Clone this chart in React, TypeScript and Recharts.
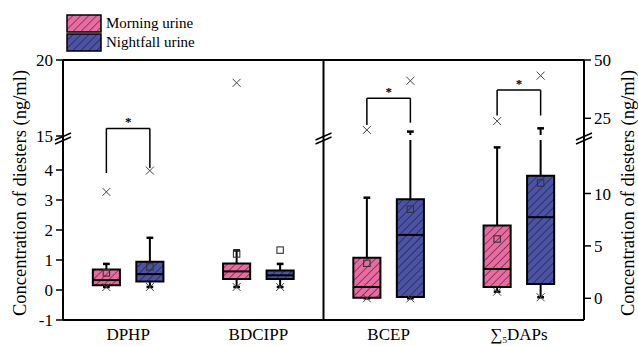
import {
  ComposedChart,
  XAxis,
  YAxis,
  Scatter,
  ReferenceArea,
  ReferenceLine,
  ReferenceDot,
  Legend,
} from "recharts";

const FONT = '"Liberation Serif", "Times New Roman", "DejaVu Serif", serif';

const categories = ["DPHP", "BDCIPP", "BCEP", "∑5DAPs"];
// DPHP and BDCIPP are read on the left axis, the other two on the right one
const categoryAxis = ["L", "L", "R", "R"];
const seriesNames = ["Morning urine", "Nightfall urine"];
const seriesColors = ["#E86CA2", "#4D53A4"];
const hatchColors = ["#4a1830", "#15183f"];

// box statistics (ng/ml)
const morningMin = [0.1, 0.1, 0, 0.63];
const morningQ1 = [0.16, 0.37, 0.06, 1.08];
const morningMedian = [0.33, 0.62, 1.08, 2.8];
const morningQ3 = [0.68, 0.88, 3.88, 6.94];
const morningMax = [0.87, 1.32, 9.6, 14.4];
const morningMean = [0.57, 1.2, 3.34, 5.66];
const morningP99 = [3.27, 18.5, 20, 23.8];

const nightMin = [0.1, 0.1, 0, 0.1];
const nightQ1 = [0.28, 0.37, 0.12, 1.37];
const nightMedian = [0.53, 0.49, 6.05, 7.74];
const nightQ3 = [0.94, 0.65, 9.46, 11.7];
const nightMax = [1.74, 0.87, 19.3, 20.7];
const nightMean = [0.77, 1.33, 8.5, 11.0];
const nightP99 = [3.98, null, 41.1, 43.3];

const leftTicks = [-1, 0, 1, 2, 3, 4, 15, 20];
const rightTicks = [0, 5, 10, 25, 50];

// significance brackets (*)
const sigCategory = [0, 2, 3];
const sigTop = [15.5, 33.6, 37.1];
const sigMorningEnd = [3.9, 22.1, 26.2];
const sigNightEnd = [4.07, 23.1, 26.2];

// broken axes -> piecewise linear map onto one shared 0..H plotting range
const H = 260;
const GAP_LO = 180;
const GAP_HI = 185;
const BREAK_AT = 181.5;
const toL = (v: number) => (v < 10 ? (v + 1) * 30 : 184 + (v - 15) * 15.2);
const toR = (v: number) => (v < 17 ? 21.7 + v * 10.48 : 201.7 + (v - 25) * 2.332);
const toAxis = (axis: string, v: number) => (axis === "L" ? toL(v) : toR(v));

const OFFSET = 0.167;
const HALF = 0.104;
const CAP = 0.026;

const stats = [
  { min: morningMin, q1: morningQ1, med: morningMedian, q3: morningQ3, max: morningMax, mean: morningMean, p99: morningP99 },
  { min: nightMin, q1: nightQ1, med: nightMedian, q3: nightQ3, max: nightMax, mean: nightMean, p99: nightP99 },
];

const boxes = categories.flatMap((c, i) =>
  stats.map((s, k) => {
    const axis = categoryAxis[i];
    const p99 = s.p99[i];
    return {
      key: `${c}-${k}`,
      series: k,
      axis,
      x: i + 0.5 + (k === 0 ? -OFFSET : OFFSET),
      min: toAxis(axis, s.min[i]),
      q1: toAxis(axis, s.q1[i]),
      med: toAxis(axis, s.med[i]),
      q3: toAxis(axis, s.q3[i]),
      max: toAxis(axis, s.max[i]),
      mean: toAxis(axis, s.mean[i]),
      p99: p99 == null ? null : toAxis(axis, p99),
    };
  })
);

// whiskers get interrupted where they cross the axis break
const splitAtBreak = (lo: number, hi: number) =>
  lo < GAP_LO && hi > GAP_HI ? [[lo, GAP_LO], [GAP_HI, hi]] : [[lo, hi]];

const meanPoints = (axis: string) =>
  boxes.filter((b) => b.axis === axis).map((b) => ({ x: b.x, y: b.mean }));
const crossPoints = (axis: string) =>
  boxes
    .filter((b) => b.axis === axis)
    .flatMap((b) => (b.p99 == null ? [{ x: b.x, y: b.min }] : [{ x: b.x, y: b.min }, { x: b.x, y: b.p99 }]));

const leftTickPos = leftTicks.map(toL);
const rightTickPos = rightTicks.map(toR);
const labelFor = (pos: number[], vals: number[]) => (t: number) => {
  const i = pos.findIndex((p) => Math.abs(p - t) < 1e-6);
  return i < 0 ? "" : String(vals[i]);
};

const Hatch = ({ id, k }: { id: string; k: number }) => (
  <pattern id={id} patternUnits="userSpaceOnUse" width={5.6} height={5.6} patternTransform="rotate(45)">
    <rect width={5.6} height={5.6} fill={seriesColors[k]} />
    <line x1={0} y1={0} x2={0} y2={5.6} stroke={hatchColors[k]} strokeWidth={1.2} />
  </pattern>
);

const SquareMark = (props: any) => (
  <rect x={props.cx - 3.2} y={props.cy - 3.2} width={6.4} height={6.4} fill="none" stroke="#333" strokeWidth={1.1} />
);

const CrossMark = (props: any) => (
  <g stroke="#444" strokeWidth={1}>
    <line x1={props.cx - 4} y1={props.cy - 4} x2={props.cx + 4} y2={props.cy + 4} />
    <line x1={props.cx - 4} y1={props.cy + 4} x2={props.cx + 4} y2={props.cy - 4} />
  </g>
);

const BreakMark = (props: any) => (
  <g stroke="#000" strokeWidth={1.4}>
    <line x1={props.cx - 8} y1={props.cy + 1.5} x2={props.cx + 8} y2={props.cy - 5.5} />
    <line x1={props.cx - 8} y1={props.cy + 5.5} x2={props.cx + 8} y2={props.cy - 1.5} />
  </g>
);

const Star = (props: any) => (
  <text x={props.cx} y={props.cy - 2} textAnchor="middle" fontSize={13} fontWeight="bold" style={{ fontFamily: FONT }}>
    *
  </text>
);

const CategoryTick = (props: any) => {
  const { x, y, payload } = props;
  const name = categories[Math.floor(payload.value)] ?? "";
  const sub = name.startsWith("∑");
  return (
    <text x={x} y={y} dy="0.71em" textAnchor="middle" fontSize={17} style={{ fontFamily: FONT }} fill="#000">
      {sub ? (
        <>
          <tspan>∑</tspan>
          <tspan fontSize={9} dy={3}>{name[1]}</tspan>
          <tspan dy={-3}>{name.slice(2)}</tspan>
        </>
      ) : (
        name
      )}
    </text>
  );
};

const axisTitle = (side: string) => (props: any) => {
  const vb = props.viewBox ?? {};
  const cx = side === "L" ? vb.x + 20 : vb.x + vb.width - 10;
  const cy = vb.y + vb.height / 2 + 3;
  return (
    <text x={cx} y={cy} transform={`rotate(-90 ${cx} ${cy})`} textAnchor="middle" dy="0.35em" fontSize={18.5} style={{ fontFamily: FONT }} fill="#000">
      Concentration of diesters (ng/ml)
    </text>
  );
};

const LegendBox = () => (
  <div style={{ fontFamily: FONT, fontSize: 15, color: "#000" }}>
    {seriesNames.map((n, k) => (
      <div key={n} style={{ display: "flex", alignItems: "center", height: 19 }}>
        <svg width={36} height={19} style={{ marginRight: 4 }}>
          <defs>
            <Hatch id={`legend-hatch-${k}`} k={k} />
          </defs>
          <rect x={1} y={1} width={34} height={17} fill={`url(#legend-hatch-${k})`} stroke="#000" strokeWidth={1.5} />
        </svg>
        <span>{n}</span>
      </div>
    ))}
  </div>
);

const line = { stroke: "#000", strokeWidth: 2 };

export default function App() {
  return (
    <div style={{ position: "absolute", left: 0, top: 0 }}>
      <ComposedChart width={638} height={346} margin={{ top: 60, right: 0, bottom: 0, left: 0 }} style={{ fontFamily: FONT }}>
        <defs>
          <Hatch id="hatch-0" k={0} />
          <Hatch id="hatch-1" k={1} />
        </defs>
        <XAxis
          type="number"
          dataKey="x"
          domain={[0, 4]}
          allowDataOverflow
          ticks={[0.5, 1.5, 2.5, 3.5]}
          interval={0}
          tick={CategoryTick}
          tickLine={false}
          tickSize={0}
          tickMargin={8}
          height={26}
          axisLine={line}
        />
        <YAxis
          yAxisId="L"
          type="number"
          dataKey="y"
          domain={[0, H]}
          allowDataOverflow
          ticks={leftTickPos}
          interval={0}
          tickFormatter={labelFor(leftTickPos, leftTicks)}
          width={63}
          tickSize={7}
          tickMargin={3}
          axisLine={line}
          tickLine={{ stroke: "#000", strokeWidth: 1.5 }}
          tick={{ fill: "#000", fontSize: 17, fontFamily: FONT }}
          label={axisTitle("L")}
        />
        <YAxis
          yAxisId="R"
          orientation="right"
          type="number"
          dataKey="y"
          domain={[0, H]}
          allowDataOverflow
          ticks={rightTickPos}
          interval={0}
          tickFormatter={labelFor(rightTickPos, rightTicks)}
          width={54}
          tickSize={7}
          tickMargin={3}
          axisLine={line}
          tickLine={{ stroke: "#000", strokeWidth: 1.5 }}
          tick={{ fill: "#000", fontSize: 17, fontFamily: FONT }}
          label={axisTitle("R")}
        />
        <Legend
          layout="horizontal"
          verticalAlign="middle"
          align="center"
          content={LegendBox}
          wrapperStyle={{ left: 66, top: 14, width: "auto" }}
        />

        {/* frame: top edge and the divider between the two axis groups */}
        <ReferenceLine yAxisId="L" y={H} {...line} />
        <ReferenceLine yAxisId="L" x={2} {...line} />
        {[0, 2, 4].map((x) => (
          <ReferenceDot key={`brk-${x}`} yAxisId="L" x={x} y={BREAK_AT} r={0} ifOverflow="visible" shape={BreakMark} />
        ))}

        {boxes.map((b) => (
          <ReferenceArea
            key={`box-${b.key}`}
            yAxisId={b.axis}
            x1={b.x - HALF}
            x2={b.x + HALF}
            y1={b.q1}
            y2={b.q3}
            fill={`url(#hatch-${b.series})`}
            fillOpacity={1}
            stroke="#000"
            strokeWidth={2}
          />
        ))}
        {boxes.map((b) => (
          <ReferenceLine
            key={`med-${b.key}`}
            yAxisId={b.axis}
            segment={[{ x: b.x - HALF, y: b.med }, { x: b.x + HALF, y: b.med }]}
            {...line}
          />
        ))}
        {boxes.flatMap((b) =>
          [...splitAtBreak(b.q3, b.max), [b.min, b.q1]].map(([lo, hi], j) => (
            <ReferenceLine
              key={`wh-${b.key}-${j}`}
              yAxisId={b.axis}
              segment={[{ x: b.x, y: lo }, { x: b.x, y: hi }]}
              {...line}
            />
          ))
        )}
        {boxes.flatMap((b) =>
          [b.max, b.min].map((v, j) => (
            <ReferenceLine
              key={`cap-${b.key}-${j}`}
              yAxisId={b.axis}
              segment={[{ x: b.x - CAP, y: v }, { x: b.x + CAP, y: v }]}
              stroke="#000"
              strokeWidth={2.5}
            />
          ))
        )}

        {sigCategory.map((c, i) => {
          const axis = categoryAxis[c];
          const xl = c + 0.5 - OFFSET;
          const xr = c + 0.5 + OFFSET;
          const top = toAxis(axis, sigTop[i]);
          return [
            <ReferenceLine key={`sig-l-${i}`} yAxisId={axis} segment={[{ x: xl, y: toAxis(axis, sigMorningEnd[i]) }, { x: xl, y: top }]} stroke="#000" strokeWidth={1.5} />,
            <ReferenceLine key={`sig-t-${i}`} yAxisId={axis} segment={[{ x: xl, y: top }, { x: xr, y: top }]} stroke="#000" strokeWidth={1.5} />,
            <ReferenceLine key={`sig-r-${i}`} yAxisId={axis} segment={[{ x: xr, y: toAxis(axis, sigNightEnd[i]) }, { x: xr, y: top }]} stroke="#000" strokeWidth={1.5} />,
            <ReferenceDot key={`sig-s-${i}`} yAxisId={axis} x={c + 0.5} y={top} r={0} ifOverflow="visible" shape={Star} />,
          ];
        })}

        <Scatter yAxisId="L" data={meanPoints("L")} shape={SquareMark} isAnimationActive={false} legendType="none" />
        <Scatter yAxisId="R" data={meanPoints("R")} shape={SquareMark} isAnimationActive={false} legendType="none" />
        <Scatter yAxisId="L" data={crossPoints("L")} shape={CrossMark} isAnimationActive={false} legendType="none" />
        <Scatter yAxisId="R" data={crossPoints("R")} shape={CrossMark} isAnimationActive={false} legendType="none" />
      </ComposedChart>
    </div>
  );
}
